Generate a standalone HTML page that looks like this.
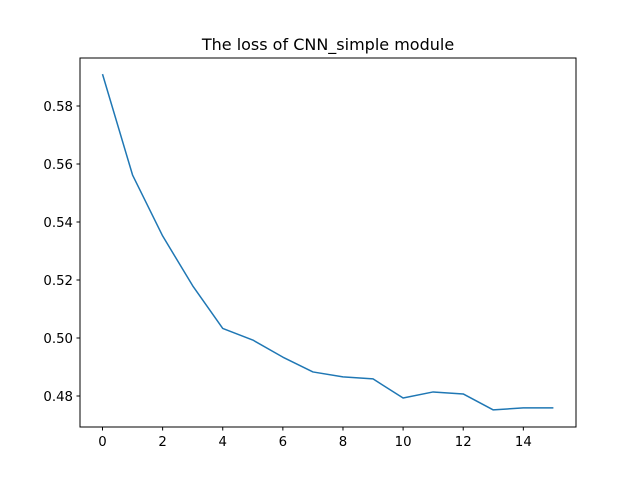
<!DOCTYPE html>
<html><head><meta charset="utf-8"><style>body{margin:0;background:#fff}svg text{font-family:"DejaVu Sans","Liberation Sans",sans-serif;font-size:13.3px;fill:#000}</style></head>
<body>
<svg id="chart" width="640" height="480" xmlns="http://www.w3.org/2000/svg">
<rect width="640" height="480" fill="#fff"/>
<text x="328" y="50" text-anchor="middle" style="font-size:16px">The loss of CNN_simple module</text>
<g id="ticks"></g>
<path id="line" fill="none" stroke="#1f77b4" stroke-width="1.5" stroke-linejoin="round"/>
<rect x="80" y="58" width="496" height="369" fill="none" stroke="#000" stroke-width="1"/>
</svg>
<script>
const epochs=[0,1,2,3,4,5,6,7,8,9,10,11,12,13,14,15];
const losses=[0.591,0.5562,0.5352,0.518,0.5033,0.4993,0.4934,0.4883,0.4866,0.4859,0.4793,0.4814,0.4807,0.4752,0.4759,0.4759];
const xTicks=[0,2,4,6,8,10,12,14];
const yTicks=[0.48,0.50,0.52,0.54,0.56,0.58];
const yTickLabels=["0.48","0.50","0.52","0.54","0.56","0.58"];
const X=v=>102.5+(v)*30.06;
const Y=v=>396-(v-0.48)*2900;
const ns="http://www.w3.org/2000/svg";
const g=document.getElementById('ticks');
function mk(t,a){const e=document.createElementNS(ns,t);for(const k in a)e.setAttribute(k,a[k]);g.appendChild(e);return e;}
xTicks.forEach(v=>{
 const l=mk('line',{x1:X(v),x2:X(v),y1:427,y2:430.5,stroke:'#000'});
 
 
 const t=mk('text',{x:X(v),y:446,'text-anchor':'middle'});t.textContent=v;
 
 
});
yTicks.forEach((v,i)=>{
 const l=mk('line',{x1:76.5,x2:80,y1:Y(v),y2:Y(v),stroke:'#000'});
 
 
 const t=mk('text',{x:73,y:Y(v)+5,'text-anchor':'end'});t.textContent=yTickLabels[i];
 
 
});
document.getElementById('line').setAttribute('d',epochs.map((e,i)=>(i?'L':'M')+X(e)+' '+Y(losses[i])).join(' '));
</script>
</body></html>
